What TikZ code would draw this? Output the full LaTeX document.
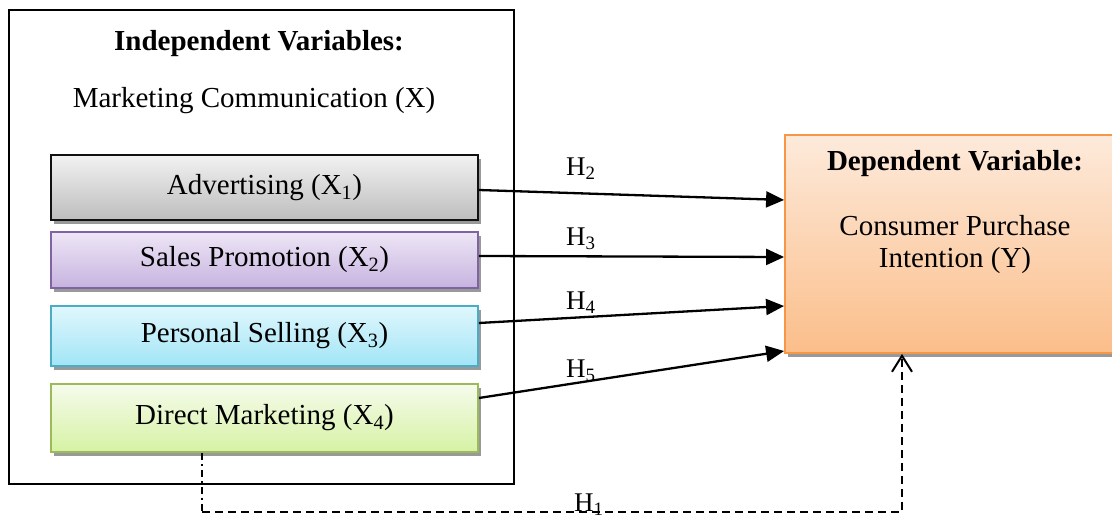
\documentclass[tikz,border=0pt]{standalone}
\usepackage{fontspec}
\setmainfont{Liberation Serif}
\usetikzlibrary{shadows,arrows.meta,calc}
\definecolor{advT}{HTML}{F2F2F2}
\definecolor{advB}{HTML}{BDBDBD}
\definecolor{advD}{HTML}{111111}
\definecolor{spT}{HTML}{EEE6F6}
\definecolor{spB}{HTML}{C6B3DF}
\definecolor{spD}{HTML}{8064A2}
\definecolor{psT}{HTML}{E0F7FD}
\definecolor{psB}{HTML}{A2E5F6}
\definecolor{psD}{HTML}{4BACC6}
\definecolor{dmT}{HTML}{F6FBEC}
\definecolor{dmB}{HTML}{D6F2A4}
\definecolor{dmD}{HTML}{9BBB59}
\definecolor{dpT}{HTML}{FDEADB}
\definecolor{dpB}{HTML}{FBBE8A}
\definecolor{dpD}{HTML}{F79646}
\tikzset{
  maintxt/.style={inner sep=0pt, font=\fontsize{29}{34}\selectfont},
  boldtxt/.style={inner sep=0pt, font=\fontsize{29}{34}\selectfont\bfseries},
  hlab/.style={inner sep=0pt, anchor=base west, font=\fontsize{27}{31}\selectfont},
  outerbox/.style={draw, line width=2pt, inner sep=0pt},
  varbox/.style={draw, line width=1.8pt, inner sep=0pt, minimum width=427pt,
    font=\fontsize{29}{34}\selectfont,
    drop shadow={shadow xshift=3pt, shadow yshift=-4pt, fill=black!40, opacity=1}},
  arr/.style={line width=2.3pt, -{Triangle[length=18pt,width=16pt]}},
  dashln/.style={line width=2pt, dash pattern=on 8pt off 5pt},
  dashdotln/.style={line width=2pt, dash pattern=on 7pt off 4pt on 2pt off 4pt},
}
\begin{document}
\begin{tikzpicture}[x=1pt,y=-1pt]
\useasboundingbox (0,0) rectangle (1112,518);
\fill[white] (0,0) rectangle (1112,518);

% outer box
\node[outerbox, minimum width=505pt, minimum height=474pt] (outer) at (261.5,247) {};
\node[boldtxt] (indep) at (259,44) {Independent Variables:};
\node[maintxt] (mc) at (254,101) {Marketing Communication (X)};

% variable boxes
\node[varbox, minimum height=65pt, top color=advT, bottom color=advB, draw=advD] (adv) at (264.5,187.5) {Advertising (X\textsubscript{1})};
\node[varbox, minimum height=56pt, top color=spT, bottom color=spB, draw=spD] (sp) at (264.5,260) {Sales Promotion (X\textsubscript{2})};
\node[varbox, minimum height=60pt, top color=psT, bottom color=psB, draw=psD] (ps) at (264.5,336) {Personal Selling (X\textsubscript{3})};
\node[varbox, minimum height=68pt, top color=dmT, bottom color=dmB, draw=dmD] (dm) at (264.5,418) {Direct Marketing (X\textsubscript{4})};

% dependent box
\node[varbox, minimum width=335pt, minimum height=218pt, top color=dpT, bottom color=dpB, draw=dpD] (dep) at (952.5,244) {};
\node[boldtxt] (deptitle) at (955,164) {Dependent Variable:};
\node[maintxt] (cp1) at (955,226) {Consumer Purchase};
\node[maintxt] (cp2) at (955,261) {Intention (Y)};

% arrows
\draw[arr] ([yshift=-2.5pt]adv.east) -- ([yshift=44pt]dep.west);
\draw[arr] ([yshift=4pt]sp.east) -- ([yshift=-13pt]dep.west);
\draw[arr] ([yshift=13pt]ps.east) -- ([yshift=-62pt]dep.west);
\draw[arr] ([yshift=20pt]dm.east) -- ([yshift=-107pt]dep.west);

\node[hlab] (h2) at (566,176) {H\textsubscript{2}};
\node[hlab] (h3) at (566,246) {H\textsubscript{3}};
\node[hlab] (h4) at (566,310) {H\textsubscript{4}};
\node[hlab] (h5) at (566,378) {H\textsubscript{5}};

% dashed path H1
\coordinate (c1) at (202,512);
\coordinate (c2) at (902,512);
\draw[dashdotln] ([xshift=-62.5pt]dm.south) -- (c1);
\draw[dashln, -{Straight Barb[length=16pt,width=20pt,line width=2pt]}] (c1) -- (c2) -- ([xshift=-50.5pt]dep.south);
\node[hlab] (h1) at (574,512) {H\textsubscript{1}};
\end{tikzpicture}
\end{document}
